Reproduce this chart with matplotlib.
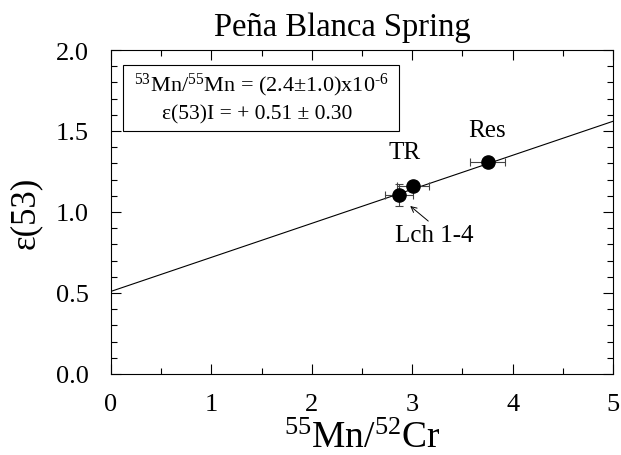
import matplotlib
matplotlib.use("Agg")
import matplotlib.pyplot as plt
import numpy as np
from matplotlib.ticker import MultipleLocator, FormatStrFormatter
from matplotlib.patches import Rectangle

plt.rcParams['font.family'] = ['Liberation Serif', 'DejaVu Serif']
plt.rcParams['mathtext.fontset'] = 'custom'
plt.rcParams['mathtext.rm'] = 'Liberation Serif'
plt.rcParams['mathtext.it'] = 'Liberation Serif'

labels = ["Lch 1-4", "TR", "Res"]
mn_cr = [2.87, 3.01, 3.75]
mn_cr_err = [0.14, 0.16, 0.17]
eps53 = [1.105, 1.16, 1.31]
eps53_err = [0.07, 0.03, 0.025]
intercept = 0.51
slope = 0.21
x_line = [0, 5]

fig = plt.figure(figsize=(6.21, 4.56), dpi=100)
ax = fig.add_axes([111/621, 1-375/456, (613-111)/621, (375-51)/456])

xl = np.array(x_line)
ax.plot(xl, intercept + slope*xl, color='black', lw=0.8)
ax.errorbar(mn_cr, eps53, xerr=mn_cr_err, yerr=eps53_err, fmt='o', color='black',
            ms=9.5, ecolor='#444444', elinewidth=0.8, capsize=3, capthick=0.8, zorder=3)

ax.set_xlim(0, 5)
ax.set_ylim(0, 2.0)
ax.xaxis.set_major_locator(MultipleLocator(1))
ax.xaxis.set_minor_locator(MultipleLocator(0.5))
ax.yaxis.set_major_locator(MultipleLocator(0.5))
ax.yaxis.set_minor_locator(MultipleLocator(0.1))
ax.yaxis.set_major_formatter(FormatStrFormatter('%.1f'))
ax.tick_params(which='both', direction='in', top=True, right=True, labelsize=19, width=0.8)
ax.tick_params(which='major', length=7)
ax.tick_params(which='minor', length=4)
ax.tick_params(axis='x', pad=14)
ax.tick_params(axis='y', pad=16)
for s in ax.spines.values():
    s.set_linewidth(0.8)

fig.text(342/621, 1-28/456, "Peña Blanca Spring", fontsize=23.5, ha='center', va='center')
ax.set_xlabel(r"$^{55}$Mn/$^{52}$Cr", fontsize=27, labelpad=4)
ax.set_ylabel("ε(53)", fontsize=25, labelpad=10)

ax.text(2.92, 1.373, labels[1], fontsize=18, ha='center', va='center')
ax.text(3.745, 1.506, labels[2], fontsize=18, ha='center', va='center')
ax.text(3.22, 0.86, labels[0], fontsize=18, ha='center', va='center')
ax.annotate("", xy=(2.98, 1.037), xytext=(3.16, 0.944),
            arrowprops=dict(arrowstyle='->', color='black', lw=0.7, shrinkA=0, shrinkB=0))

ax.add_patch(Rectangle((0.12, 1.5), 2.75, 0.407, fill=False, ec='black', lw=0.8, zorder=4))
ax.text(1.5, 1.79, r"$^{53}$Mn/$^{55}$Mn = (2.4±1.0)x10$^{\text{-}6}$", fontsize=16,
        ha='center', va='center')
ax.text(1.46, 1.605, "ε(53)I = + 0.51 ± 0.30", fontsize=15.5, ha='center', va='center')

fig.savefig("out.png", dpi=100)
